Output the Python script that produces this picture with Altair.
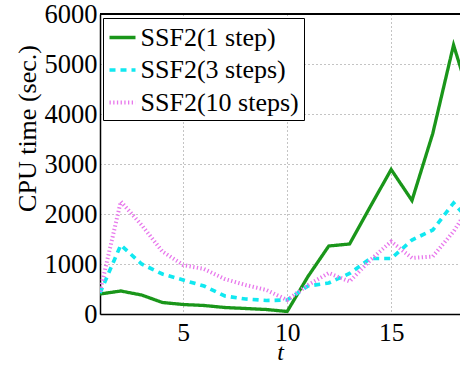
import altair as alt
import pandas as pd

t = list(range(1, 20))
ssf1 = [400, 460, 380, 230, 190, 170, 130, 110, 90, 50, 750, 1360, 1400, 2150, 2890, 2270, 3610, 5380, 4030]
ssf3 = [420, 1380, 1000, 800, 680, 560, 360, 300, 270, 280, 560, 620, 810, 1110, 1110, 1480, 1680, 2220, 1760]
ssf10 = [450, 2250, 1780, 1250, 980, 900, 700, 580, 480, 280, 580, 820, 650, 1080, 1450, 1120, 1150, 1650, 2300]

names = ["SSF2(1 step)", "SSF2(3 steps)", "SSF2(10 steps)"]
colors = ["#1a961a", "#11e8f0", "#e878ec"]
dashes = [[1, 0], [6, 5], [1.3, 2.4]]
widths = [3.3, 4, 7]
y_ticks = [0, 1000, 2000, 3000, 4000, 5000, 6000]
x_ticks = [5, 10, 15]

rows = []
for name, series in zip(names, [ssf1, ssf3, ssf10]):
    for ti, v in zip(t, series):
        rows.append({"t": ti, "cpu": v, "series": name, "order": names.index(name)})
df = pd.DataFrame(rows)

FONT = "Liberation Serif"

x_enc = alt.X("t:Q",
              scale=alt.Scale(domain=[1, 18.31], nice=False, zero=False),
              axis=alt.Axis(values=x_ticks, title="t", titleFontStyle="italic",
                            titleFontWeight="normal", titleFontSize=24,
                            titlePadding=-5, labelFontSize=25.5,
                            labelPadding=6, ticks=False, grid=True, gridDash=[1, 3],
                            gridColor="#888888", gridWidth=1, domainColor="black",
                            domainWidth=1.5, labelColor="black", titleColor="black",
                            labelFlush=False, format="d"))
y_enc = alt.Y("cpu:Q",
              scale=alt.Scale(domain=[0, 6000], nice=False),
              axis=alt.Axis(values=y_ticks, title="CPU time (sec.)",
                            titleFontSize=26, titleFontWeight="normal",
                            titleAngle=270, titleX=-65, titleY=114,
                            titleAlign="center", titleBaseline="alphabetic",
                            labelFontSize=26.5, labelPadding=3, ticks=False,
                            grid=True, gridDash=[1, 3], gridColor="#888888", gridWidth=1,
                            domainColor="black", domainWidth=1.5, labelColor="black",
                            titleColor="black", labelFlush=False, format="d"))

lines = alt.Chart(df).mark_line(clip=True, strokeCap="butt", strokeJoin="miter").encode(
    x=x_enc,
    y=y_enc,
    color=alt.Color("series:N", scale=alt.Scale(domain=names, range=colors),
                    legend=alt.Legend(title=None, orient="none", legendX=3, legendY=4,
                                      strokeColor="black", fillColor="white", padding=4.5,
                                      labelFontSize=26, labelColor="black",
                                      symbolType="stroke", symbolSize=676,
                                      rowPadding=4.5, labelOffset=3, labelLimit=300,
                                      symbolOpacity=1)),
    strokeDash=alt.StrokeDash("series:N", scale=alt.Scale(domain=names, range=dashes)),
    strokeWidth=alt.StrokeWidth("series:N", scale=alt.Scale(domain=names, range=widths)),
    order="order:Q",
)

top = alt.Chart(df).mark_rule(color="black", strokeWidth=1.5).encode(
    x=alt.value(0), x2=alt.value(360), y=alt.value(0)
)

chart = alt.layer(lines, top).properties(
    width=360, height=300,
    autosize=alt.AutoSizeParams(type="none"),
    padding={"left": 100, "top": 14, "right": 0, "bottom": 51},
).configure_view(stroke=None).configure(
    background="white", font=FONT
).configure_axis(labelFont=FONT, titleFont=FONT).configure_legend(labelFont=FONT)

chart.save("out.html", embed_options={"renderer": "svg", "actions": False})
